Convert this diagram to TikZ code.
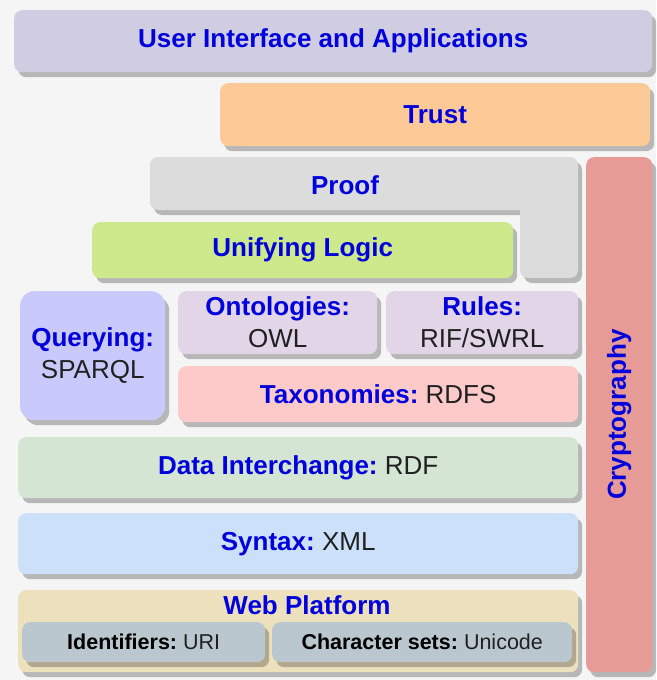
\documentclass[tikz,border=0pt]{standalone}
\usepackage{fontspec}
\setmainfont{Liberation Sans}
\usetikzlibrary{shadows}
\frenchspacing
\definecolor{tblue}{RGB}{0,0,220}
\definecolor{tdark}{RGB}{32,32,32}
\definecolor{bgcol}{RGB}{245,245,245}
\definecolor{uicol}{RGB}{208,205,227}
\definecolor{trustcol}{RGB}{253,201,151}
\definecolor{proofcol}{RGB}{220,220,220}
\definecolor{crcol}{RGB}{230,155,150}
\definecolor{logiccol}{RGB}{205,233,139}
\definecolor{querycol}{RGB}{201,201,252}
\definecolor{ontocol}{RGB}{225,213,231}
\definecolor{taxcol}{RGB}{253,202,202}
\definecolor{datacol}{RGB}{213,229,211}
\definecolor{syncol}{RGB}{204,224,250}
\definecolor{webcol}{RGB}{237,225,189}
\definecolor{idcol}{RGB}{186,199,207}
\newcommand{\kw}[1]{{\color{tblue}\bfseries #1}}
\newcommand{\vl}[1]{{\color{tdark}#1}}
\begin{document}
\frenchspacing
\begin{tikzpicture}[x=1pt,y=-1pt,
  shad/.style={drop shadow={shadow xshift=4pt,shadow yshift=-5pt,fill=black,opacity=0.25}},
  layer/.style={shad,rounded corners=8pt,inner sep=0pt,anchor=north west,align=center,
                font=\fontsize{26}{32}\selectfont},
  sublayer/.style={layer,font=\fontsize{21.5}{26}\selectfont},
  lbl/.style={inner sep=0pt,align=center,font=\fontsize{26}{32}\selectfont}]
\fill[bgcol] (0,0) rectangle (656,680);
\useasboundingbox (0,0) rectangle (656,680);

\node[layer,fill=uicol,minimum width=638pt,minimum height=62pt] (ui) at (14,10)
  {\kw{User Interface and Applications}};
\node[layer,fill=trustcol,minimum width=430pt,minimum height=63pt] (trust) at (220,83)
  {\kw{Trust}};
\node[layer,fill=crcol,minimum width=66pt,minimum height=515pt] (crypto) at (586,157) {};
\node[lbl,rotate=90] (cryptol) at (crypto.center) {\kw{Cryptography}};

\begin{scope}[shift={(4,5)}]
  \fill[black,opacity=0.25,rounded corners=8pt]
    (150,157) rectangle (578,210) (520,157) rectangle (578,278);
\end{scope}
\fill[proofcol,rounded corners=8pt]
  (150,157) rectangle (578,210) (520,157) rectangle (578,278);
\node[lbl] (proof) at (345,185) {\kw{Proof}};

\node[layer,fill=logiccol,minimum width=421pt,minimum height=56pt] (logic) at (92,222)
  {\kw{Unifying Logic}};
\node[layer,fill=querycol,minimum width=145pt,minimum height=129pt,rounded corners=14pt] (query) at (20,291)
  {\kw{Querying:}\\ \vl{SPARQL}};
\node[layer,fill=ontocol,minimum width=199pt,minimum height=63pt] (onto) at (178,291)
  {\kw{Ontologies:}\\ \vl{OWL}};
\node[layer,fill=ontocol,minimum width=192pt,minimum height=63pt] (rules) at (386,291)
  {\kw{Rules:}\\ \vl{RIF/SWRL}};
\node[layer,fill=taxcol,minimum width=400pt,minimum height=56pt] (tax) at (178,366)
  {\kw{Taxonomies:} \vl{RDFS}};
\node[layer,fill=datacol,minimum width=560pt,minimum height=61pt] (data) at (18,437)
  {\kw{Data Interchange:} \vl{RDF}};
\node[layer,fill=syncol,minimum width=560pt,minimum height=61pt] (syntax) at (18,513)
  {\kw{Syntax:} \vl{XML}};
\node[layer,fill=webcol,minimum width=560pt,minimum height=82pt] (web) at (18,590) {};
\node[lbl] (webl) at (307,605) {\kw{Web Platform}};
\node[sublayer,fill=idcol,minimum width=243pt,minimum height=40pt] (ids) at (22,622)
  {{\color{black}\bfseries Identifiers:} \vl{URI}};
\node[sublayer,fill=idcol,minimum width=300pt,minimum height=40pt] (chars) at (272,622)
  {{\color{black}\bfseries Character sets:} \vl{Unicode}};
\end{tikzpicture}
\end{document}
